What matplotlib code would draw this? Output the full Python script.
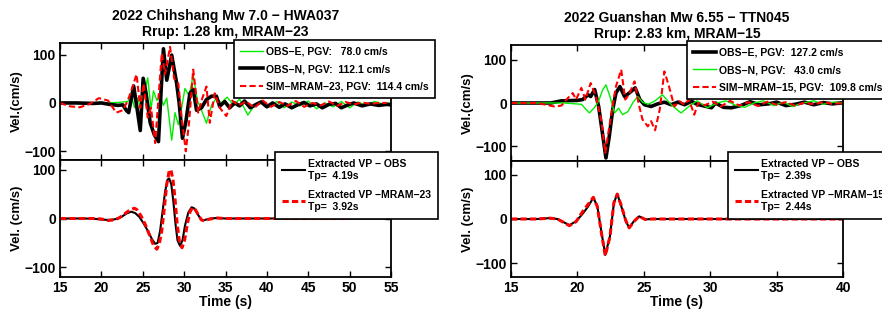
"""Velocity pulses: observed vs MRAM simulated, HWA037 and TTN045"""
import matplotlib
matplotlib.use('Agg')
import matplotlib.pyplot as plt

plt.rcParams['font.family'] = ['Liberation Sans', 'DejaVu Sans']
plt.rcParams['font.weight'] = 'bold'
plt.rcParams['axes.labelweight'] = 'bold'
plt.rcParams['axes.titleweight'] = 'bold'
plt.rcParams['lines.scale_dashes'] = False

# ---- 2022 Chihshang, HWA037 ----
hwa_title = '2022 Chihshang Mw 7.0 \u2212 HWA037\nRrup: 1.28 km, MRAM\u221223'

hwa_t_e = [15, 20, 22, 23.2, 23.6, 24.0, 24.4, 24.8, 25.2, 25.6, 26.0, 26.3, 26.7, 27.1, 27.5,
           27.9, 28.5, 28.9, 29.3, 29.7, 30.1, 30.6, 31.1, 31.6, 32.1, 32.7, 33.3, 33.9, 34.5,
           35.2, 36.0, 36.7, 37.7, 38.5, 39.4, 40.3, 41.2, 42.1, 43, 44, 45, 46, 47, 48, 49,
           50, 51, 52, 53, 54, 55]
hwa_v_e = [0, 0, 1, 3, 18, -10, 10, -15, 20, 52, -12, 25, 5, 15, -5,
           10, -77, -20, -45, -10, 30, 15, 58, 5, -15, -42, -5, 10, 0,
           12, -5, 8, -25, -5, 5, -8, 3, -10, 2, -6, 4, -12, 0, -8, 3,
           -10, 2, -5, 3, -2, 0]

hwa_t_n = [15, 17, 19, 20, 21, 22, 22.6, 23.0, 23.3, 23.9, 24.3, 24.7, 25.05, 25.4, 25.9,
           26.4, 26.9, 27.2, 27.5, 27.9, 28.5, 29.1, 29.4, 29.8, 30.2, 30.7, 31.1, 31.5, 32.1,
           32.7, 33.3, 33.9, 34.3, 34.9, 35.5, 36.1, 36.7, 37.3, 38, 38.7, 39.3, 40, 40.7,
           41.5, 42.2, 43, 43.7, 44.5, 45.2, 46, 46.7, 47.5, 48.3, 49, 49.8, 50.5, 51.5,
           52.5, 53.5, 54.5, 55]
hwa_v_n = [0, 0, -1, 0, -3, -5, -4, -15, -20, 35, -10, -57, 51, 20, -41,
           -66, -80, 20, 112, 47, 99, 40, 0, -73, -40, 20, 28, -15, -10,
           7, 14, 14, -7, 3, -10, 0, -6, 4, -10, -3, 2, -8, 0,
           -9, -2, -10, -4, 1, -6, -2, -10, -3, -1, -10, -4, 0, -6,
           -2, -5, -3, -4]

hwa_t_sim = [15, 16.2, 17.4, 18.6, 19.7, 20.8, 21.8, 22.6, 23.2, 23.7, 24.25, 24.7, 25.1, 25.6,
             26.0, 26.5, 26.9, 27.3, 27.7, 28.3, 28.8, 29.3, 29.7, 30.2, 30.6, 31.1, 31.7,
             32.2, 32.7, 33.1, 33.7, 34.3, 35.1, 35.8, 36.6, 37.5, 38.5, 39.5, 40.5, 41.5,
             42.5, 43.5, 44.5, 45.5, 46.5, 47.5, 48.5, 49.5, 50.5, 51.5, 52.5, 53.5, 54.5]
hwa_v_sim = [0, -7, -9, -2, 10, 5, -20, -15, 5, 30, 59, -10, 40, -30,
             -10, -83, 10, 103, 60, 116, 50, 40, -30, -100, -40, 69, -20,
             10, 34, -41, 20, -10, -27, 5, -5, 3, -10, 5, -8, 2,
             -6, 4, -8, 0, -5, 3, -6, 2, -3, 1, -2, 0, 0]

hwa_t_vp_obs = [15, 18, 19, 20, 20.8, 21.5, 22, 22.5, 23, 23.6, 24.1, 24.6, 25.1, 25.6, 26.1,
                26.5, 26.8, 27.1, 27.4, 27.7, 28.0, 28.2, 28.45, 28.7, 28.95, 29.2, 29.5, 29.8,
                30.1, 30.5, 30.9, 31.2, 31.6, 32.0, 32.3, 32.7, 33.2, 34, 35, 54.7]
hwa_v_vp_obs = [0, 0, -0.5, -2, -3, -2, 0, 4, 10, 14, 11, 3, -10, -25, -42,
                -52, -50, -25, 15, 55, 80, 82, 70, 35, -10, -45, -56, -45,
                -15, 12, 23, 21, 10, -1, -4, -2, 0, 1, 0, 0]
hwa_t_vp_sim = [15, 19, 20, 20.8, 21.5, 22, 22.5, 23, 23.5, 24, 24.3, 24.8, 25.3, 25.8, 26.3,
                26.7, 27.0, 27.3, 27.6, 27.9, 28.2, 28.4, 28.65, 28.9, 29.15, 29.45, 29.75,
                30.05, 30.4, 30.7, 31.0, 31.3, 31.7, 32.1, 32.5, 32.9, 33.5, 34, 35, 50]
hwa_v_vp_sim = [0, 0, -1, -4, -3, 0, 5, 12, 18, 21, 18, 5, -12, -33, -55,
                -63, -52, -25, 20, 70, 98, 100, 80, 40, -10, -50, -60,
                -45, -10, 13, 22, 20, 8, -3, -5, -2, 0, 1, 0, 0]
hwa_labels_top = ['OBS\u2212E, PGV:   78.0 cm/s', 'OBS\u2212N, PGV:  112.1 cm/s',
                  'SIM\u2212MRAM\u221223, PGV:  114.4 cm/s']
hwa_labels_vp = ['Extracted VP \u2212 OBS\nTp=  4.19s', 'Extracted VP \u2212MRAM\u221223\nTp=  3.92s']

# ---- 2022 Guanshan, TTN045 ----
ttn_title = '2022 Guanshan Mw 6.55 \u2212 TTN045\nRrup: 2.83 km, MRAM\u221215'

ttn_t_e = [15, 18, 18.8, 20.0, 20.4, 20.8, 21.0, 21.3, 21.6, 21.85, 22.15, 22.4, 22.66, 22.9,
           23.2, 23.55, 23.9, 24.35, 24.7, 25.05, 25.55, 26.05, 26.55, 27.06, 27.56, 28.07,
           28.6, 29, 29.7, 30.1, 30.4, 31.0, 31.6, 32.3, 33.0, 33.7, 34.4, 35, 35.7, 36.4,
           37.1, 37.8, 38.5, 39.2, 39.8]
ttn_v_e = [0, 0, 5, 6, 8, 19, 15, 31, -8, -62, -127, -77, -15, 23,
           38, 15, 23, 35, 8, -4, -8, -2, 2, -4, 2, -4,
           4, -3, -8, -11, 0, -10, -11, -6, 3, -4, -2, 2, -6, -3,
           2, -4, 1, -2, 0]

ttn_t_n = [15, 19, 20.3, 20.9, 21.3, 21.6, 21.9, 22.15, 22.45, 22.8, 23.1, 23.4, 23.8, 24.2,
           24.55, 24.9, 25.3, 25.8, 26.4, 27.1, 27.8, 28.4, 29, 29.8, 30.5, 31.2, 31.9, 32.6,
           33.3, 34, 34.8, 35.5, 36.2, 37, 37.8, 38.5, 39.3, 40]
ttn_v_n = [0, 0, -3, -23, -10, 5, 30, 42, 15, -23, -12, -27, -20, 2,
           15, 2, -3, 4, 19, -5, -23, -8, 5, -11, 0, 5, -5, -10,
           0, 5, -6, 2, -8, 0, 5, -3, 2, 0]

ttn_t_sim = [15, 17, 18.25, 18.8, 19.3, 19.65, 19.9, 20.3, 20.6, 21.0, 21.4, 21.8, 22.1, 22.4,
             22.65, 22.9, 23.3, 23.6, 23.9, 24.3, 24.6, 24.9, 25.3, 25.55, 25.85, 26.2, 26.55,
             26.9, 27.3, 27.7, 28.05, 28.4, 28.8, 29.1, 29.6, 30.2, 30.8, 31.5, 32.2, 32.9,
             33.6, 34.3, 35, 35.7, 36.4, 37.1, 37.8, 38.5, 39.2, 40]
ttn_v_sim = [0, 0, -8, -6, 12, 23, 8, 35, 8, 46, 15, -40, -115, -55,
             -8, 38, 77, 8, 20, 50, 0, -38, -54, -42, -63, -15, 73,
             38, -8, 4, -4, 8, -27, 0, -5, 3, -8, 5, -6, 2,
             -7, 3, -4, 2, -6, 1, -3, 2, -2, 0]

ttn_t_vp_obs = [15, 17, 17.9, 18.5, 19.4, 19.9, 20.4, 20.8, 21.2, 21.5, 21.8, 22.1, 22.45, 22.75,
                23.0, 23.3, 23.65, 23.9, 24.25, 24.65, 25.1, 25.6, 40]
ttn_v_vp_obs = [0, 0, 2, 0, -14, -5, 12, 28, 48, 29, -28, -81, -39, 36,
                57, 29, -5, -20, -5, 6, -1, 0, 0]
ttn_t_vp_sim = [15, 17, 17.9, 18.5, 19.4, 19.9, 20.4, 20.8, 21.2, 21.5, 21.8, 22.1, 22.45, 22.75,
                23.0, 23.3, 23.65, 23.9, 24.25, 24.65, 25.1, 25.6, 40]
ttn_v_vp_sim = [0, 0, 2, 0, -15, -6, 17, 33, 49, 28, -30, -83, -40, 37,
                56, 31, -4, -20, -6, 6, -1, 0, 0]
ttn_labels_top = ['OBS\u2212E, PGV:  127.2 cm/s', 'OBS\u2212N, PGV:   43.0 cm/s',
                  'SIM\u2212MRAM\u221215, PGV:  109.8 cm/s']
ttn_labels_vp = ['Extracted VP \u2212 OBS\nTp=  2.39s', 'Extracted VP \u2212MRAM\u221215\nTp=  2.44s']

W, H = 882, 311
DASH = (4.5, 2.3)


def px_box(x0, y0, x1, y1):
    """pixel box (top-left origin) -> figure fraction rect"""
    return [x0 / W, 1 - y1 / H, (x1 - x0) / W, (y1 - y0) / H]


def style(ax, xlim, ylim, xticks):
    ax.set_xlim(*xlim)
    ax.set_ylim(*ylim)
    ax.set_xticks(xticks)
    ax.set_yticks([-100, 0, 100])
    ax.tick_params(direction='in', top=True, right=True, length=4, width=1,
                   labelsize=10, pad=3)
    for s in ax.spines.values():
        s.set_linewidth(1.3)


def make_legend(ax, handles, labels, x0, y0, spacing, bpad, lsp):
    leg = ax.legend(handles, labels, loc='upper left', bbox_to_anchor=(x0 / W, 1 - y0 / H),
                    bbox_transform=ax.figure.transFigure, fontsize=7.5, frameon=True,
                    fancybox=False, edgecolor='black', framealpha=1, borderaxespad=0,
                    borderpad=bpad, handlelength=2.2, handletextpad=0.25, labelspacing=spacing)
    leg.get_frame().set_linewidth(1.2)
    for t in leg.get_texts():
        t.set_linespacing(lsp)
    return leg


fig = plt.figure(figsize=(W / 100, H / 100), dpi=100)

# left column
ax1 = fig.add_axes(px_box(60, 43, 391, 160))
l_e, = ax1.plot(hwa_t_e, hwa_v_e, color='#00ee00', lw=1.0)
l_n, = ax1.plot(hwa_t_n, hwa_v_n, color='black', lw=2.6)
l_s, = ax1.plot(hwa_t_sim, hwa_v_sim, color='red', lw=1.5, dashes=DASH)
style(ax1, (15, 55), (-118, 124), range(15, 56, 5))
ax1.set_xticklabels([])
ax1.set_ylabel('Vel.(cm/s)', fontsize=9.5, labelpad=1)
ax1.set_title(hwa_title, fontsize=10, pad=5, linespacing=1.15)

ax2 = fig.add_axes(px_box(60, 160, 391, 277))
v_o, = ax2.plot(hwa_t_vp_obs, hwa_v_vp_obs, color='black', lw=1.5)
v_s, = ax2.plot(hwa_t_vp_sim, hwa_v_vp_sim, color='red', lw=2.2, dashes=DASH)
style(ax2, (15, 55), (-120, 120), range(15, 56, 5))
ax2.set_ylabel('Vel. (cm/s)', fontsize=9.5, labelpad=1)
ax2.set_xlabel('Time (s)', fontsize=10, labelpad=0)

make_legend(ax1, [l_e, l_n, l_s], hwa_labels_top, 234, 40, 0.75, 0.6, 1.0)
make_legend(ax2, [v_o, v_s], hwa_labels_vp, 275, 152, 0.9, 0.7, 1.2)

# right column
ax3 = fig.add_axes(px_box(511, 45, 843, 161))
r_e, = ax3.plot(ttn_t_e, ttn_v_e, color='black', lw=2.6)
r_n, = ax3.plot(ttn_t_n, ttn_v_n, color='#00ee00', lw=1.0)
r_s, = ax3.plot(ttn_t_sim, ttn_v_sim, color='red', lw=1.5, dashes=DASH)
style(ax3, (15, 40), (-134, 134), range(15, 41, 5))
ax3.set_xticklabels([])
ax3.set_ylabel('Vel.(cm/s)', fontsize=9.5, labelpad=1)
ax3.set_title(ttn_title, fontsize=10, pad=5, linespacing=1.15)

ax4 = fig.add_axes(px_box(511, 161, 843, 277))
w_o, = ax4.plot(ttn_t_vp_obs, ttn_v_vp_obs, color='black', lw=1.5)
w_s, = ax4.plot(ttn_t_vp_sim, ttn_v_vp_sim, color='red', lw=2.2, dashes=DASH)
style(ax4, (15, 40), (-131, 131), range(15, 41, 5))
ax4.set_ylabel('Vel. (cm/s)', fontsize=9.5, labelpad=1)
ax4.set_xlabel('Time (s)', fontsize=10, labelpad=0)

make_legend(ax3, [r_e, r_n, r_s], ttn_labels_top, 687, 41, 0.75, 0.6, 1.0)
make_legend(ax4, [w_o, w_s], ttn_labels_vp, 728, 152, 0.9, 0.7, 1.2)

fig.savefig('out.png', dpi=100)
